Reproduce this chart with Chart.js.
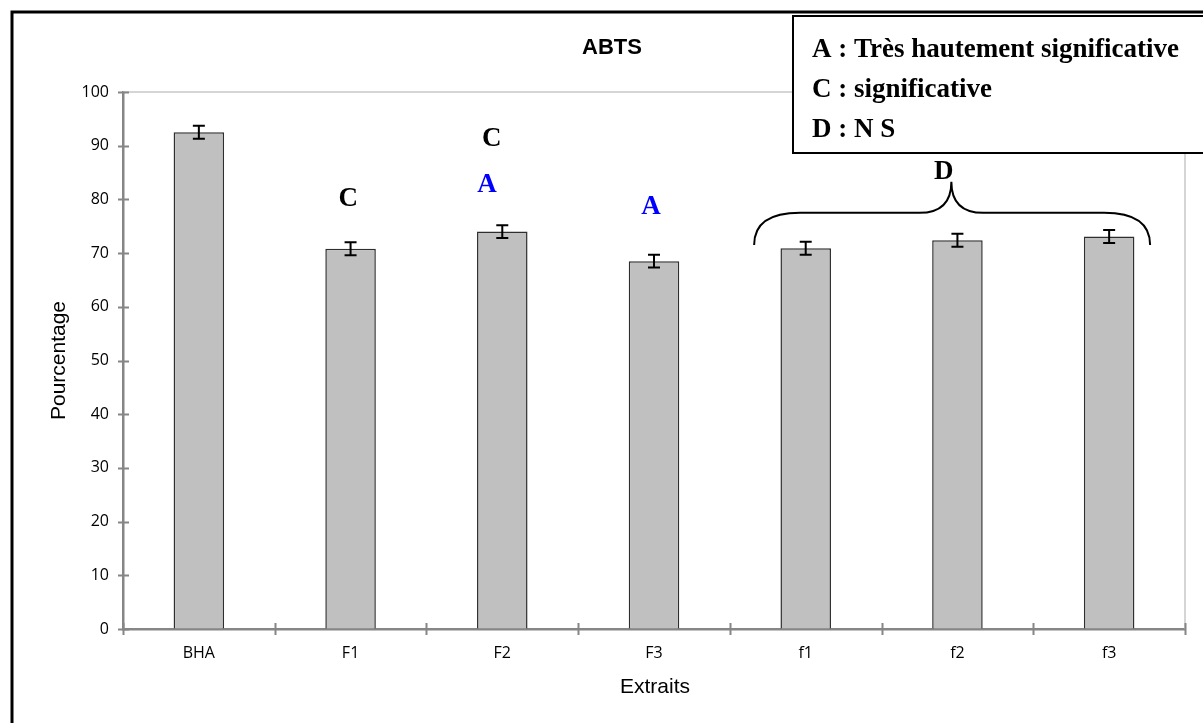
<!DOCTYPE html>
<html>
<head>
<meta charset="utf-8">
<script src="https://cdn.jsdelivr.net/npm/chart.js@4.4.1/dist/chart.umd.min.js"></script>
<style>
  html, body { margin: 0; padding: 0; background: #fff; }
  #wrap { width: 1203px; height: 723px; position: relative; }
</style>
</head>
<body>
<div id="wrap"><canvas id="c" width="1203" height="723"></canvas></div>
<script>
// values (% inhibition ABTS)
const CATEGORIES = ['BHA', 'F1', 'F2', 'F3', 'f1', 'f2', 'f3'];
const VALUES = [92.5, 70.8, 74.0, 68.5, 70.9, 72.4, 73.1];
const ERRORS = [1.2, 1.2, 1.2, 1.2, 1.2, 1.2, 1.2];
const Y_TICKS = [0, 10, 20, 30, 40, 50, 60, 70, 80, 90, 100];

// significance letters: text, position on the category axis, height in %
const MARK_TEXT = ['C', 'C', 'A', 'A', 'D'];
const MARK_CAT = [0.985, 1.93, 1.90, 2.98, 4.91];
const MARK_AT = [80.3, 91.5, 82.8, 78.8, 85.3];
const MARK_KIND = ['sig', 'sig', 'high', 'high', 'ns'];

// brace grouping f1..f3 (category range, heights in %: ends, bar, tip)
const BRACE_CAT = [3.66, 4.96, 6.27];
const BRACE_AT = [71.5, 77.5, 83.3];

const LEGEND_LINES = ['A : Très hautement significative', 'C : significative', 'D : N S'];
const TITLE = 'ABTS';
const X_TITLE = 'Extraits';
const Y_TITLE = 'Pourcentage';

const KIND_COLOR = { sig: '#000000', high: '#0000ff', ns: '#000000' };
const SERIF = '"Liberation Serif", "Times New Roman", serif';
const SANS = '"Liberation Sans", Arial, sans-serif';

// position on category axis -> pixel (fractional categories allowed)
function catPixel(x, v) {
  const p0 = x.getPixelForValue(0);
  const step = x.getPixelForValue(1) - p0;
  return p0 + v * step;
}

const decorPlugin = {
  id: 'decor',
  beforeDraw(chart) {
    const { ctx } = chart;
    ctx.save();
    ctx.fillStyle = '#fff';
    ctx.fillRect(0, 0, chart.width, chart.height);
    ctx.restore();
  },
  afterDatasetsDraw(chart) {
    const { ctx, chartArea: a, scales: { x, y } } = chart;
    ctx.save();

    // plot area top / right border
    ctx.strokeStyle = '#c8c8c8';
    ctx.lineWidth = 1.5;
    ctx.beginPath();
    ctx.moveTo(a.left, a.top);
    ctx.lineTo(a.right, a.top);
    ctx.lineTo(a.right, a.bottom);
    ctx.stroke();

    // crossing tick marks
    ctx.strokeStyle = '#868686';
    ctx.lineWidth = 2;
    ctx.beginPath();
    Y_TICKS.forEach(v => {
      const py = Math.round(y.getPixelForValue(v)) + 0.5;
      ctx.moveTo(a.left - 5, py);
      ctx.lineTo(a.left + 6, py);
    });
    for (let i = 0; i <= CATEGORIES.length; i++) {
      const px = Math.round(catPixel(x, i - 0.5)) + 0.5;
      ctx.moveTo(px, a.bottom - 6);
      ctx.lineTo(px, a.bottom + 6);
    }
    ctx.stroke();

    // error bars
    const meta = chart.getDatasetMeta(0);
    ctx.strokeStyle = '#000';
    ctx.lineWidth = 2;
    meta.data.forEach((bar, i) => {
      const cx = bar.x;
      const hi = y.getPixelForValue(VALUES[i] + ERRORS[i]);
      const lo = y.getPixelForValue(VALUES[i] - ERRORS[i]);
      ctx.beginPath();
      ctx.moveTo(cx, hi); ctx.lineTo(cx, lo);
      ctx.moveTo(cx - 6, hi); ctx.lineTo(cx + 6, hi);
      ctx.moveTo(cx - 6, lo); ctx.lineTo(cx + 6, lo);
      ctx.stroke();
    });

    // significance letters
    ctx.font = 'bold 27px ' + SERIF;
    ctx.textAlign = 'center';
    ctx.textBaseline = 'middle';
    MARK_TEXT.forEach((t, i) => {
      ctx.fillStyle = KIND_COLOR[MARK_KIND[i]];
      ctx.fillText(t, catPixel(x, MARK_CAT[i]), y.getPixelForValue(MARK_AT[i]) + 1);
    });

    // brace
    const xl = catPixel(x, BRACE_CAT[0]);
    const xc = catPixel(x, BRACE_CAT[1]);
    const xr = catPixel(x, BRACE_CAT[2]);
    const yEnd = y.getPixelForValue(BRACE_AT[0]);
    const yMid = y.getPixelForValue(BRACE_AT[1]);
    const yTip = y.getPixelForValue(BRACE_AT[2]);
    const r1 = 46, r2 = 32;
    ctx.strokeStyle = '#000';
    ctx.lineWidth = 2;
    ctx.beginPath();
    ctx.moveTo(xl, yEnd);
    ctx.quadraticCurveTo(xl, yMid, xl + r1, yMid);
    ctx.lineTo(xc - r2, yMid);
    ctx.quadraticCurveTo(xc, yMid, xc, yTip);
    ctx.quadraticCurveTo(xc, yMid, xc + r2, yMid);
    ctx.lineTo(xr - r1, yMid);
    ctx.quadraticCurveTo(xr, yMid, xr, yEnd);
    ctx.stroke();

    // titles
    ctx.fillStyle = '#000';
    ctx.textBaseline = 'alphabetic';
    ctx.font = 'bold 22px ' + SANS;
    ctx.fillText(TITLE, 612, 54);
    ctx.font = '21px ' + SANS;
    ctx.fillText(X_TITLE, (a.left + a.right) / 2 + 1, 693);
    ctx.save();
    ctx.translate(65, (a.top + a.bottom) / 2);
    ctx.rotate(-Math.PI / 2);
    ctx.fillText(Y_TITLE, 0, 0);
    ctx.restore();

    // legend box
    ctx.fillStyle = '#fff';
    ctx.fillRect(793, 16, 500, 137);
    ctx.strokeStyle = '#000';
    ctx.lineWidth = 2;
    ctx.strokeRect(793, 16, 500, 137);
    ctx.fillStyle = '#000';
    ctx.textAlign = 'left';
    ctx.font = 'bold 27px ' + SERIF;
    LEGEND_LINES.forEach((t, i) => ctx.fillText(t, 812, 57 + i * 40));

    // outer frame
    ctx.lineWidth = 3;
    ctx.strokeRect(12, 12, 1300, 800);

    ctx.restore();
  }
};

new Chart(document.getElementById('c'), {
  type: 'bar',
  data: {
    labels: CATEGORIES,
    datasets: [{
      data: VALUES,
      backgroundColor: '#c0c0c0',
      borderColor: '#2e2e2e',
      borderWidth: 1.5,
      borderSkipped: 'bottom',
      barPercentage: 0.333,
      categoryPercentage: 1
    }]
  },
  options: {
    responsive: false,
    animation: false,
    layout: { padding: { left: 0, right: 18, top: 92, bottom: 0 } },
    plugins: { legend: { display: false }, tooltip: { enabled: false } },
    scales: {
      x: {
        grid: { display: true, drawOnChartArea: false, drawTicks: false },
        border: { display: true, color: '#868686', width: 2.5 },
        ticks: { color: '#000', font: { family: 'Open Sans', size: 16 }, padding: 15 },
        afterFit: s => { s.height = 94; }
      },
      y: {
        min: 0,
        max: 100,
        afterBuildTicks: s => { s.ticks = Y_TICKS.map(v => ({ value: v })); },
        grid: { display: true, drawOnChartArea: false, drawTicks: false },
        border: { display: true, color: '#868686', width: 2.5 },
        ticks: { color: '#000', font: { family: 'Open Sans', size: 16 }, padding: 14 },
        afterFit: s => { s.width = 123; }
      }
    }
  },
  plugins: [decorPlugin]
});
</script>
</body>
</html>
